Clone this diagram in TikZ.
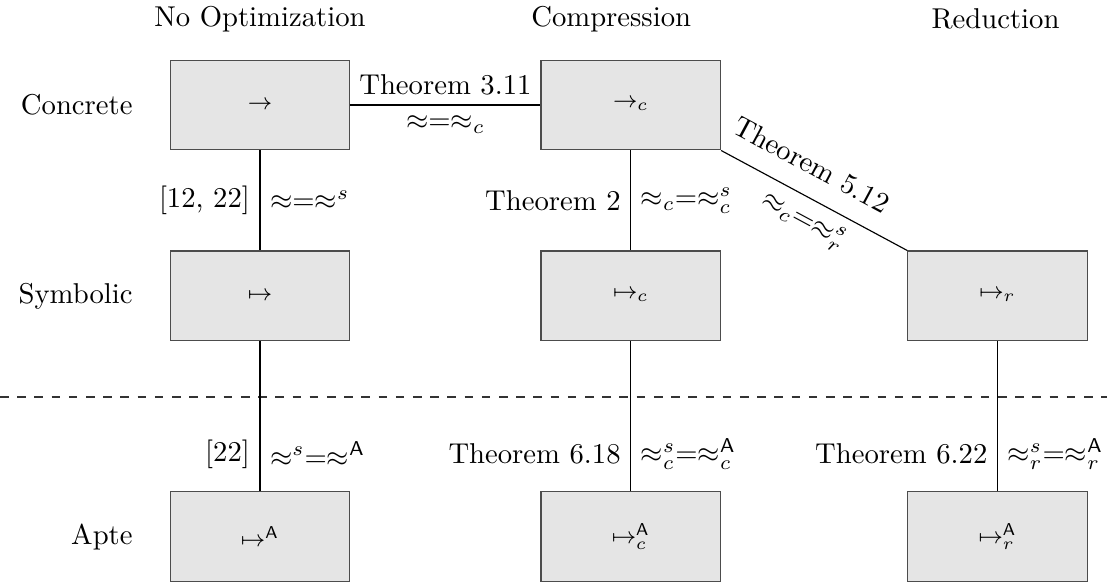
\documentclass[tikz,border=0pt]{standalone}
\usepackage{tikz}
\usetikzlibrary{positioning}

\begin{document}
\begin{tikzpicture}[
  box/.style={draw=black!70, fill=gray!20, minimum width=2.2cm, minimum height=1.1cm,
              font=\footnotesize, inner sep=0pt},
  rowlbl/.style={anchor=east},
  collbl/.style={anchor=center},
  edge/.style={black},
  sep/.style={dashed, black!80},
]
  \useasboundingbox (0,0) rectangle (13.566,-7.157);

  % boxes
  \node[box] (C1) at (3.186,-1.287) {$\to$};
  \node[box, right=2.33cm of C1] (C2) {$\to_c$};
  \node[box, below=1.225cm of C1] (S1) {$\mapsto$};
  \node[box, below=1.225cm of C2] (S2) {$\mapsto_c$};
  \node[box, right=2.28cm of S2]  (S3) {$\mapsto_r$};
  \node[box, below=1.838cm of S1] (A1) {$\mapsto^{\mathsf{A}}$};
  \node[box, below=1.838cm of S2] (A2) {$\mapsto_c^{\mathsf{A}}$};
  \node[box, below=1.838cm of S3] (A3) {$\mapsto_r^{\mathsf{A}}$};

  % row and column titles
  \node[rowlbl, left=0.33cm of C1] (rC) {Concrete};
  \node[rowlbl, left=0.33cm of S1] (rS) {Symbolic};
  \node[rowlbl, left=0.33cm of A1] (rA) {Apte};
  \node[collbl] (hN) at (3.186,-0.23) {No Optimization};
  \node[collbl] (hC) at (7.49,-0.23)  {Compression};
  \node[collbl] (hR) at (12.2,-0.23)  {Reduction};

  % separator
  \coordinate (sepL) at (0,-4.865);
  \coordinate (sepR) at (13.566,-4.865);
  \draw[sep] (sepL) -- (sepR);

  % edges
  \draw[edge] (C1) -- node[above]{Theorem 3.11} node[below]{$\approx=\approx_c$} (C2);
  \draw[edge] (C1) -- node[left]{[12, 22]} node[right]{$\approx=\approx^s$} (S1);
  \draw[edge] (C2) -- node[left]{Theorem 2} node[right]{$\approx_c=\approx_c^s$} (S2);
  \draw[edge] (C2.south east) -- node[pos=0.41, above=3.5pt, sloped]{Theorem 5.12} node[below, sloped]{$\approx_c=\approx_r^s$} (S3.north west);
  \draw[edge] (S1) -- node[pos=0.75, left]{[22]} node[pos=0.75, right]{$\approx^s=\approx^{\mathsf{A}}$} (A1);
  \draw[edge] (S2) -- node[pos=0.75, left]{Theorem 6.18} node[pos=0.75, right]{$\approx_c^s=\approx_c^{\mathsf{A}}$} (A2);
  \draw[edge] (S3) -- node[pos=0.75, left]{Theorem 6.22} node[pos=0.75, right]{$\approx_r^s=\approx_r^{\mathsf{A}}$} (A3);
\end{tikzpicture}
\end{document}
